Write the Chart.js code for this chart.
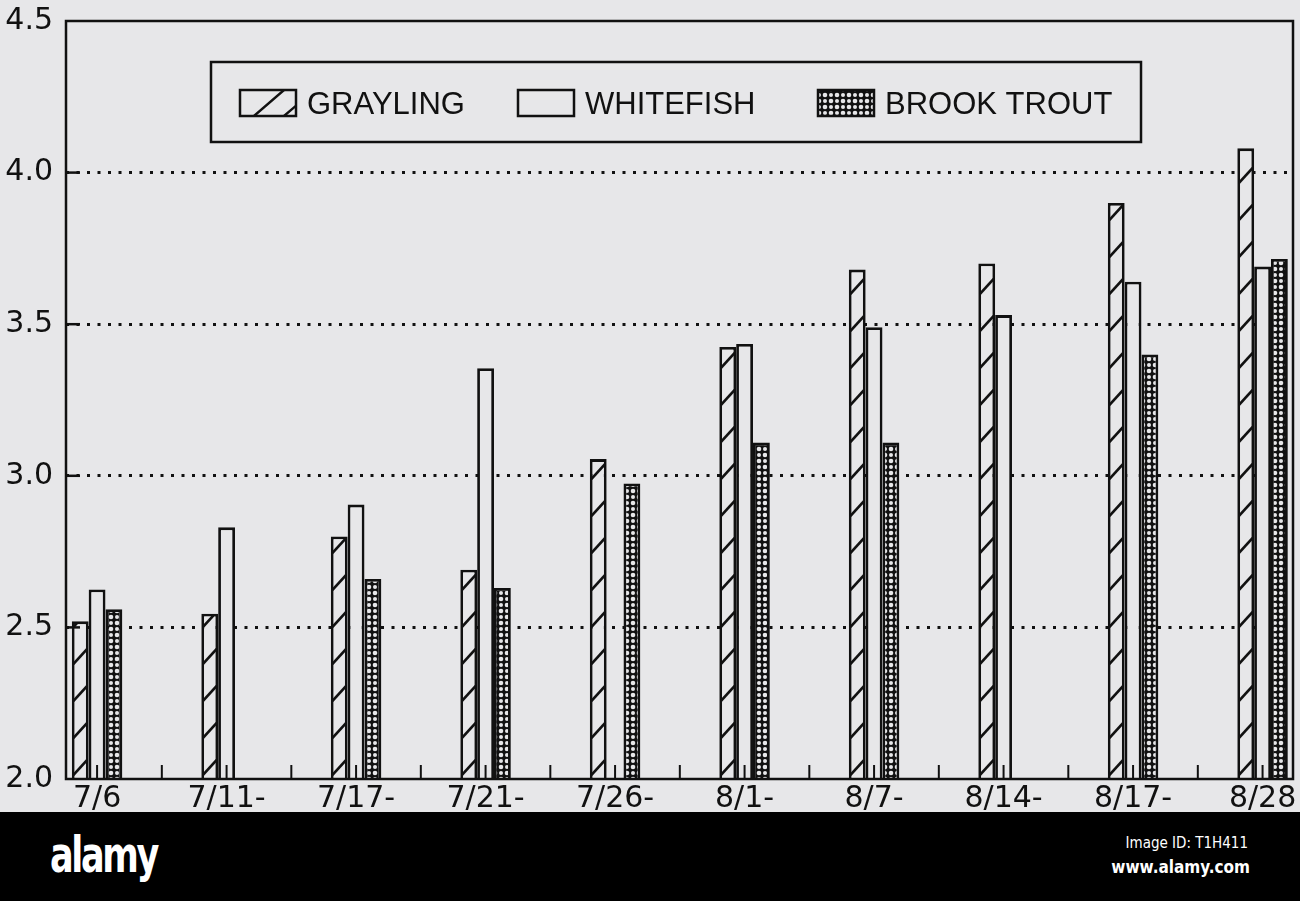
<!DOCTYPE html>
<html>
<head>
<meta charset="utf-8">
<script src="https://cdn.jsdelivr.net/npm/chart.js@4.4.1/dist/chart.umd.min.js"></script>
<style>
  html, body { margin: 0; padding: 0; background: #000; }
  #wrap { position: relative; width: 1300px; height: 812px; overflow: hidden; background: #e7e7e9; }
  #chart { position: absolute; left: 0; top: -10px; }
  #band { position: relative; width: 1300px; height: 89px; background: #000; color: #fff; font-family: "DejaVu Sans Condensed", "DejaVu Sans", sans-serif; }
  #logo { position: absolute; left: 50px; top: 14px; font-size: 50px; font-weight: bold; letter-spacing: -3px; transform: scaleX(0.78); transform-origin: left top; }
  #imgid { position: absolute; right: 52px; top: 22px; font-size: 15px; }
  #site { position: absolute; right: 50px; top: 45px; font-size: 17px; font-weight: bold; }
</style>
</head>
<body>
<div id="wrap"><canvas id="chart" width="1300" height="830"></canvas></div>
<div id="band"><div id="logo">alamy</div><div id="imgid">Image ID: T1H411</div><div id="site">www.alamy.com</div></div>
<script>
const categories = ['7/6', '7/11-', '7/17-', '7/21-', '7/26-', '8/1-', '8/7-', '8/14-', '8/17-', '8/28'];
const grayling   = [2.52, 2.545, 2.80, 2.69, 3.055, 3.425, 3.68, 3.70, 3.90, 4.08];
const whitefish  = [2.625, 2.83, 2.905, 3.355, null, 3.435, 3.49, 3.53, 3.64, 3.69];
const brookTrout = [2.56, null, 2.66, 2.63, 2.975, 3.11, 3.11, null, 3.40, 3.715];
const seriesNames = ['GRAYLING', 'WHITEFISH', 'BROOK TROUT'];
const yMin = 2.0, yMax = 4.5, yStep = 0.5;

const paper = '#e7e7e9';
const ink = '#111';

// black lattice with white holes for brook trout
function makeLattice() {
  const c = document.createElement('canvas');
  c.width = 12; c.height = 12;
  const g = c.getContext('2d');
  g.fillStyle = ink;
  g.fillRect(0, 0, 12, 12);
  g.fillStyle = paper;
  [[3, 3, 2.3], [9, 3, 2.0], [3, 9, 2.0], [9, 9, 2.3]].forEach(([x, y, r]) => {
    g.beginPath();
    g.arc(x, y, r, 0, Math.PI * 2);
    g.fill();
  });
  return g.createPattern(c, 'repeat');
}

const ctx = document.getElementById('chart').getContext('2d');
const lattice = makeLattice();

function points(arr) {
  return arr.map((v, i) => ({ x: i, y: v }));
}

function hatch(c, l, t, r, b) {
  c.save();
  c.beginPath();
  c.rect(l, t, r - l, b - t);
  c.clip();
  c.lineWidth = 2.6;
  c.strokeStyle = ink;
  for (let yb = b - 4; yb > t - 20; yb -= 37) {
    c.beginPath();
    c.moveTo(l, yb);
    c.lineTo(r, yb - 15);
    c.stroke();
  }
  c.restore();
}

const decor = {
  id: 'decor',
  afterDatasetsDraw(chart) {
    const c = chart.ctx;
    const ca = chart.chartArea;
    const meta = chart.getDatasetMeta(0);
    meta.data.forEach((bar, i) => {
      if (grayling[i] == null) return;
      const p = bar.getProps(['x', 'y', 'base', 'width'], true);
      const bottom = Math.min(p.base, ca.bottom);
      hatch(c, p.x - p.width / 2 + 1.5, p.y + 1.5, p.x + p.width / 2 - 1.5, bottom);
    });
  },
  afterDraw(chart) {
    const c = chart.ctx;
    const ca = chart.chartArea;
    const xs = chart.scales.x, ys = chart.scales.y;
    c.save();
    c.strokeStyle = ink;

    // tick marks on the bottom axis, pointing up
    c.lineWidth = 2;
    for (let v = -0.5; v <= categories.length; v += 0.5) {
      const px = xs.getPixelForValue(v);
      if (px <= ca.left + 2 || px >= ca.right - 2) continue;
      c.beginPath();
      c.moveTo(px, ca.bottom);
      c.lineTo(px, ca.bottom - 14);
      c.stroke();
    }
    // inward ticks on the left axis
    c.lineWidth = 2.5;
    for (let v = yMin + yStep; v < yMax; v += yStep) {
      const py = ys.getPixelForValue(v);
      c.beginPath();
      c.moveTo(ca.left, py);
      c.lineTo(ca.left + 14, py);
      c.stroke();
    }
    // frame
    c.lineWidth = 2.5;
    c.strokeRect(ca.left, ca.top, ca.right - ca.left, ca.bottom - ca.top);

    // legend box
    const bx = ca.left + 145, by = ca.top + 41, bw = 930, bh = 80;
    c.lineWidth = 2.5;
    c.fillStyle = paper;
    c.fillRect(bx, by, bw, bh);
    c.strokeRect(bx, by, bw, bh);
    const offs = [29, 307, 607];
    const sw = 56, sh = 26;
    const sy = by + bh / 2 - sh / 2 + 1;
    c.font = '31px "Liberation Sans", Arial, sans-serif';
    c.textBaseline = 'alphabetic';
    offs.forEach((o, k) => {
      const sx = bx + o;
      c.fillStyle = k === 2 ? lattice : paper;
      c.fillRect(sx, sy, sw, sh);
      if (k === 0) {
        c.save();
        c.beginPath();
        c.rect(sx, sy, sw, sh);
        c.clip();
        c.lineWidth = 2.4;
        c.beginPath();
        c.moveTo(sx + 14, sy + sh);
        c.lineTo(sx + 44, sy);
        c.moveTo(sx + 44, sy + sh);
        c.lineTo(sx + 58, sy + sh - 12);
        c.stroke();
        c.restore();
      }
      c.lineWidth = 2.5;
      c.strokeRect(sx, sy, sw, sh);
      c.fillStyle = ink;
      c.fillText(chart.data.datasets[k].label, sx + 67, by + bh / 2 + 12);
    });
    c.restore();
  }
};

new Chart(ctx, {
  type: 'bar',
  data: {
    datasets: [
      { label: seriesNames[0], data: points(grayling), backgroundColor: paper, borderColor: ink, borderWidth: 2.8 },
      { label: seriesNames[1], data: points(whitefish), backgroundColor: paper, borderColor: ink, borderWidth: 2.8 },
      { label: seriesNames[2], data: points(brookTrout), backgroundColor: lattice, borderColor: ink, borderWidth: 2.8 }
    ]
  },
  options: {
    responsive: false,
    animation: false,
    devicePixelRatio: 1,
    categoryPercentage: 0.39,
    barPercentage: 1.0,
    layout: { padding: { left: 0, right: 7, top: 21, bottom: 0 } },
    plugins: {
      legend: { display: false },
      tooltip: { enabled: false }
    },
    scales: {
      x: {
        type: 'linear',
        offset: false,
        min: -0.24,
        max: 9.235,
        grid: { display: false, drawTicks: false, offset: false },
        border: { display: false },
        afterBuildTicks(scale) {
          scale.ticks = categories.map((c, i) => ({ value: i }));
        },
        afterFit(scale) { scale.height = 41; },
        ticks: {
          autoSkip: false,
          maxRotation: 0,
          padding: 2,
          color: ink,
          font: { family: '"DejaVu Sans", sans-serif', size: 30 },
          callback: (v) => categories[Math.round(v)]
        }
      },
      y: {
        min: yMin,
        max: yMax,
        afterFit(scale) { scale.width = 66; },
        border: { display: false, dash: [3, 7.5] },
        grid: {
          drawTicks: false,
          lineWidth: 3,
          color: (c) => (c.tick && c.tick.value > yMin && c.tick.value < yMax) ? ink : 'rgba(0,0,0,0)'
        },
        ticks: {
          stepSize: yStep,
          padding: 13,
          color: ink,
          font: { family: '"DejaVu Sans", sans-serif', size: 30 },
          callback: (v) => v.toFixed(1)
        }
      }
    }
  },
  plugins: [decor]
});
</script>
</body>
</html>
